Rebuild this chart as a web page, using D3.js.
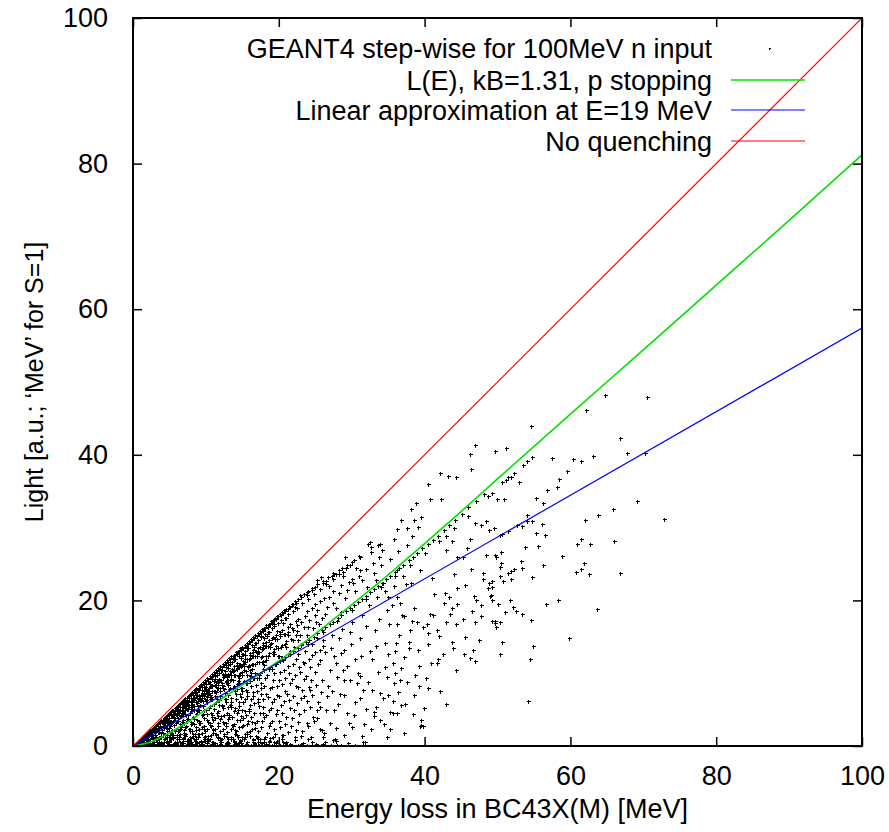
<!DOCTYPE html>
<html>
<head>
<meta charset="utf-8">
<script src="https://cdn.jsdelivr.net/npm/d3@7"></script>
<style>
  body { margin: 0; background: #fff; }
  text { font-family: "Liberation Sans", Arial, Helvetica, sans-serif; fill: #000; }
</style>
</head>
<body>
<svg id="chart" width="889" height="832"></svg>
<script>
// ---- axis ticks ----
const xTicks = [0, 20, 40, 60, 80, 100];
const yTicks = [0, 20, 40, 60, 80, 100];

// ---- model curves [E (MeV), light] ----
const birksCurve = [[0,0],[1,0.2],[2.5,0.6],[5,1.8],[7.5,3.3],[10,5.0],[12.5,6.7],[15,8.4],[17.5,10.0],[20,11.7],
  [25,15.4],[30,19.4],[35,23.5],[40,27.8],[45,32.2],[50,36.7],[60,45.6],[70,54.4],[80,63.3],[90,72.2],[100,81.2]];
const linearApprox = [[0,0],[100,57.4]];
const noQuench = [[0,0],[100,100]];

// ---- legend entries ----
const legendLabels = ["GEANT4 step-wise for 100MeV n input", "L(E), kB=1.31, p stopping",
  "Linear approximation at E=19 MeV", "No quenching"];
const legendColors = ["#000000", "#00e000", "#0000ff", "#ff0000"];

// ---- GEANT4 steps [E, L] ----
// rim of steps just below the unquenched line
const rimUpper = [[0.3,0.29],[0.6,0.56],[0.9,0.85],[1.2,1.11],[1.5,1.41],[1.8,1.67],[2.1,1.96],[2.4,2.22],[2.7,2.52],[3.0,2.78],
  [3.3,3.07],[3.6,3.31],[3.9,3.63],[4.2,3.88],[4.5,4.18],[4.8,4.42],[5.1,4.73],[5.4,4.98],[5.7,5.28],[6.0,5.52],
  [6.3,5.83],[6.6,6.07],[6.9,6.38],[7.2,6.61],[7.5,6.93],[7.8,7.16],[8.1,7.47],[8.4,7.71],[8.7,8.02],[9.0,8.25],
  [9.3,8.56],[9.6,8.8],[9.9,9.1],[10.2,9.33],[10.5,9.64],[10.8,9.87],[11.1,10.18],[11.4,10.41],[11.7,10.72],[12.0,10.95],
  [12.3,11.25],[12.6,11.49],[12.9,11.79],[13.2,12.03],[13.5,12.33],[13.8,12.56],[14.1,12.87],[14.4,13.1],[14.7,13.4],[15.0,13.64],
  [15.3,13.94],[15.6,14.17],[15.9,14.47],[16.2,14.7],[16.5,15.0],[16.8,15.22],[17.1,15.53],[17.4,15.75],[17.7,16.06],[18.0,16.27],
  [18.3,16.59],[18.6,16.8],[18.9,17.11],[19.2,17.32],[19.5,17.63],[19.8,17.84],[20.1,18.15],[20.4,18.36],[20.7,18.67],[21.0,18.88],
  [21.4,19.23],[21.8,19.5],[22.2,19.88],[22.6,20.15],[23.0,20.52],[23.5,20.85],[24.0,21.27],[24.6,21.64],[25.3,22.22],[26.0,22.6],
  [26.8,23.25],[27.6,23.62]];
const rimMiddle = [[0.45,0.41],[0.75,0.68],[1.05,0.95],[1.35,1.2],[1.65,1.48],[1.95,1.74],[2.25,2.0],[2.55,2.29],[2.85,2.54],[3.15,2.82],
  [3.45,3.07],[3.75,3.36],[4.05,3.6],[4.35,3.9],[4.65,4.13],[4.95,4.43],[5.25,4.66],[5.55,4.97],[5.85,5.2],[6.15,5.5],
  [6.45,5.73],[6.75,6.04],[7.05,6.26],[7.35,6.58],[7.65,6.8],[7.95,7.11],[8.25,7.33],[8.55,7.65],[8.85,7.86],[9.15,8.18],
  [9.45,8.4],[9.75,8.72],[10.05,8.93],[10.35,9.25],[10.65,9.46],[10.95,9.79],[11.25,10.0],[11.55,10.32],[11.85,10.53],[12.15,10.86],
  [12.45,11.06],[12.75,11.39],[13.05,11.6],[13.35,11.93],[13.65,12.13],[13.95,12.46],[14.25,12.66],[14.55,13.0],[14.85,13.2],[15.15,13.53],
  [15.45,13.73],[15.75,14.06],[16.05,14.26],[16.35,14.6],[16.65,14.79],[16.95,15.13],[17.25,15.32],[17.55,15.66],[17.85,15.85],[18.15,16.2],
  [18.45,16.38],[18.75,16.73],[19.05,16.91],[19.35,17.26],[19.65,17.44],[19.95,17.79],[20.25,17.97],[20.55,18.3],[20.85,18.5],[21.2,18.8],
  [21.6,19.05],[22.0,19.45],[22.4,19.7]];
const rimLower = [[0.5,0.42],[1.0,0.86],[1.4,1.2],[1.9,1.6],[2.3,1.98],[2.8,2.38],[3.2,2.75],[3.7,3.12],[4.1,3.5],[4.6,3.9],
  [5.0,4.3],[5.5,4.66],[5.9,5.05],[6.4,5.42],[6.8,5.8],[7.3,6.2],[7.7,6.58],[8.2,6.95],[8.6,7.35],[9.1,7.72],
  [9.5,8.1],[10.0,8.5],[10.4,8.85],[10.9,9.26],[11.3,9.62],[11.8,10.0],[12.2,10.4],[12.7,10.8],[13.1,11.15],[13.6,11.55],
  [14.0,11.9],[14.5,12.3],[14.9,12.68],[15.4,13.06],[15.8,13.43],[16.3,13.85],[16.7,14.2],[17.2,14.6],[17.6,14.95],[18.1,15.38],
  [18.5,15.7],[19.0,16.15],[19.4,16.46],[19.9,16.9],[20.3,17.25],[20.8,17.65],[21.3,18.1],[21.9,18.6],[22.5,19.0],[23.2,19.7],
  [24.0,20.2],[24.8,20.9],[25.6,21.6],[26.5,22.3],[27.4,22.9],[28.3,23.6],[29.2,24.5],
  [1.2,0.95],[2.5,1.9],[3.4,2.7],[4.4,3.4],[5.3,4.1],[6.1,4.8],[7.0,5.5],[7.9,6.1],[8.8,6.9],[9.7,7.5],
  [10.6,8.3],[11.5,8.9],[12.4,9.7],[13.3,10.3],[14.2,11.1],[15.1,11.7],[16.0,12.5],[16.9,13.1],[17.8,13.9],[18.7,14.5],
  [19.6,15.3],[20.5,15.9],[21.5,16.8],[22.6,17.5],[23.8,18.6],[25.0,19.5],[26.2,20.3],[27.5,21.3],[28.6,22.1],[30.0,23.0],
  [23.8,20.8],[24.5,21.4],[25.2,22.8],[25.8,23.2],[26.5,22.6],[27.5,23.7],[28.2,24.2],[29.3,24.9],[30.1,25.3],[31.1,26.0],
  [32.3,27.8],[33.6,27.6],[26.9,22.0],[28.8,23.3],[30.6,24.5]];
// shoulder just under the rim
const rimShoulder = [[0.7,0.6],[0.85,0.6],[1.0,0.8],[1.15,0.8],[1.3,1.1],[1.45,1.0],[1.6,1.3],[1.75,1.1],[1.9,1.4],[2.05,1.4],
  [2.2,1.8],[2.35,1.7],[2.5,2.1],[2.65,1.9],[2.8,2.2],[2.95,1.9],[3.1,2.7],[3.25,2.3],[3.4,2.7],[3.55,2.2],
  [3.7,2.8],[3.85,2.6],[4.0,3.3],[4.15,3.1],[4.3,3.6],[4.45,3.2],[4.6,3.6],[4.75,3.1],[4.9,4.2],[5.05,3.5],
  [5.2,4.2],[5.35,3.3],[5.5,4.2],[5.65,3.8],[5.8,4.8],[5.95,4.4],[6.1,5.1],[6.25,4.5],[6.4,5.0],[6.55,4.3],
  [6.7,5.8],[6.85,4.8],[7.0,5.6],[7.15,4.4],[7.3,5.5],[7.45,5.1],[7.6,6.2],[7.75,5.7],[7.9,6.6],[8.05,5.8],
  [8.2,6.4],[8.35,5.5],[8.5,7.3],[8.65,6.1],[8.8,7.0],[8.95,5.5],[9.1,6.9],[9.25,6.3],[9.4,7.7],[9.55,7.1],
  [9.7,8.1],[9.85,7.1],[10.0,7.8],[10.15,6.7],[10.3,8.9],[10.45,7.3],[10.6,8.5],[10.75,6.7],[10.9,8.3],[11.05,7.5],
  [11.2,9.2],[11.35,8.4],[11.5,9.7],[11.65,8.4],[11.8,9.2],[11.95,7.9],[12.1,10.4],[12.25,8.6],[12.4,9.9],[12.55,7.8],
  [12.7,9.7],[12.85,8.7],[13.0,10.7],[13.15,9.7],[13.3,11.2],[13.45,9.7],[13.6,10.6],[13.75,9.1],[13.9,12.0],[14.05,9.8],
  [14.2,11.4],[14.35,8.9],[14.5,11.0],[14.65,10.0],[14.8,12.1],[14.95,11.1],[15.1,12.7],[15.25,11.0],[15.4,12.0],[15.55,10.3],
  [15.7,13.5],[15.85,11.1],[16.0,12.8],[16.15,10.0],[16.3,12.4],[16.45,11.2],[16.6,13.6],[16.75,12.4],[16.9,14.2],[17.05,12.3],
  [17.2,13.4],[17.35,11.5],[17.5,15.1],[17.65,12.4],[17.8,14.2],[17.95,11.1],[18.1,13.8],[18.25,12.4],[18.4,15.1],[18.55,13.7],
  [18.7,15.7],[18.85,13.6],[19.0,14.8],[19.2,12.7],[19.4,16.7],[19.6,13.7],[19.8,15.8],[20.0,12.4],[20.2,15.4],[20.4,13.9],
  [20.6,16.9],[20.8,15.4],[21.0,17.6],[21.3,15.3],[21.6,16.8],[21.9,14.5],[22.2,19.1],[22.5,15.8]];
// wedge between the rim and the stopping-proton curve
const upperWedge = [[2.2,1.5],[2.9,2.2],[3.6,2.5],[4.3,3.2],[4.9,3.6],[5.6,4.3],[6.2,4.6],[6.9,5.2],[7.3,5.8],[7.9,5.6],
  [8.4,6.3],[8.9,6.5],[9.4,7.1],[9.8,7.3],[10.3,7.6],[10.7,8.2],[11.2,8.4],[11.6,8.9],[12.1,9.1],[12.5,9.6],
  [12.9,9.5],[13.4,10.2],[13.8,10.5],[14.3,10.6],[14.7,11.3],[15.2,11.2],[15.6,12.0],[16.1,12.1],[16.5,12.9],[17.0,12.8],
  [17.4,13.6],[17.9,13.5],[18.3,14.3],[18.8,14.0],[19.2,15.0],[19.7,14.7],[20.2,15.6],[20.7,15.4],[21.2,16.4],[21.8,16.2],
  [22.4,17.2],[23.0,17.0],[3.1,2.0],[5.0,3.2],[6.6,4.2],[8.1,5.1],[9.9,6.4],[11.4,7.4],[13.0,8.4],[14.6,9.4],
  [16.3,10.6],[17.8,11.6],[19.4,12.6],[21.0,13.6],[22.7,14.6]];
const lowCloud = [[0.6,0.3],[0.9,0.5],[1.1,0.2],[1.3,0.8],[1.4,0.4],[1.7,1.1],[1.8,0.6],[2.0,1.4],[2.1,0.3],[2.3,0.9],
  [2.4,1.7],[2.6,1.2],[2.7,0.5],[2.9,2.1],[3.0,1.5],[3.1,0.8],[3.3,2.4],[3.4,1.1],[3.5,1.9],[3.7,2.8],
  [3.8,0.6],[3.9,1.4],[4.0,2.2],[4.1,3.0],[4.2,1.0],[4.3,2.6],[4.4,1.7],[4.5,3.4],[4.6,0.7],[4.7,2.0],
  [4.8,3.1],[4.9,1.3],[5.0,2.5],[5.0,3.8],[5.1,0.9],[5.2,1.8],[5.3,3.3],[5.4,4.2],[5.4,2.2],[5.5,1.2],
  [5.6,2.9],[5.7,3.9],[5.8,0.6],[5.8,4.6],[5.9,2.4],[6.0,1.5],[6.0,3.5],[6.1,4.3],[6.2,2.0],[6.3,0.9],
  [6.3,5.0],[6.4,3.0],[6.5,1.6],[6.5,4.1],[6.6,2.6],[6.7,5.3],[6.8,3.6],[6.8,1.1],[6.9,4.7],[7.0,2.2],
  [7.0,3.1],[7.1,5.6],[7.2,1.7],[7.3,4.2],[7.3,2.8],[7.4,0.7],[7.5,5.1],[7.5,3.7],[7.6,6.0],[7.7,2.4],
  [7.8,1.3],[7.8,4.6],[7.9,3.3],[8.0,5.6],[8.1,2.0],[8.1,6.3],[8.2,4.0],[8.3,0.9],[8.3,3.0],[8.4,5.0],
  [8.5,1.6],[8.5,6.6],[8.6,2.6],[8.7,4.4],[8.8,3.6],[8.8,5.9],[8.9,1.2],[9.0,7.0],[9.0,2.3],[9.1,4.9],
  [9.2,3.2],[9.3,6.3],[9.3,0.7],[9.4,1.8],[9.5,4.2],[9.5,7.3],[9.6,5.5],[9.7,2.8],[9.8,3.8],[9.8,6.8],
  [9.9,1.4],[10.0,5.0],[10.0,7.7],[10.1,2.3],[10.2,4.4],[10.2,6.1],[10.3,3.3],[10.4,8.0],[10.5,1.0],[10.5,5.5],
  [10.6,7.0],[10.7,2.7],[10.8,4.0],[10.8,8.4],[10.9,6.5],[11.0,1.8],[11.0,3.6],[11.1,5.1],[11.2,7.5],[11.3,2.4],
  [11.4,8.8],[11.4,6.0],[11.5,4.5],[11.6,1.2],[11.7,3.1],[11.7,7.9],[11.8,5.6],[11.9,9.1],[12.0,2.1],[12.0,6.8],
  [12.1,4.1],[12.2,8.4],[12.3,3.3],[12.4,5.2],[12.4,9.5],[12.5,1.6],[12.6,7.3],[12.7,2.8],[12.7,6.1],[12.8,8.8],
  [12.9,4.6],[13.0,9.9],[13.0,3.7],[13.1,1.0],[13.2,7.8],[13.3,5.6],[13.4,2.3],[13.5,9.2],[13.5,6.6],[13.6,4.0],
  [13.7,10.3],[13.8,3.0],[13.9,8.3],[14.0,1.7],[14.0,5.2],[14.1,7.1],[14.2,10.7],[14.3,4.5],[14.4,9.6],[14.5,2.6],
  [14.5,6.1],[14.6,8.7],[14.7,3.6],[14.8,11.0],[14.9,1.3],[14.9,7.6],[15.0,5.0],[15.0,10.1],[15.1,2.9],[15.2,8.9],
  [15.3,6.5],[15.4,11.5],[15.5,4.2],[15.6,1.9],[15.6,9.8],[15.7,7.4],[15.8,3.5],[15.9,12.0],[16.0,5.7],[16.1,10.5],
  [16.2,8.2],[16.3,2.4],[16.4,6.8],[16.5,12.4],[16.6,4.6],[16.6,9.3],[16.8,11.2],[16.9,1.4],[17.0,7.6],[17.0,3.4],
  [17.2,12.9],[17.3,5.5],[17.4,10.0],[17.5,8.6],[17.6,2.6],[17.7,13.3],[17.8,6.4],[17.9,11.7],[18.0,4.0],[18.1,9.3],
  [18.2,13.8],[18.3,7.2],[18.4,1.8],[18.5,12.3],[18.6,5.0],[18.7,10.6],[18.8,3.1],[18.9,14.2],[19.0,8.1],[19.1,6.0],
  [19.2,12.9],[19.3,2.3],[19.4,10.0],[19.5,14.7],[19.6,4.4],[19.7,7.0],[19.8,11.6],[19.9,13.4],[20.0,3.5],[20.0,9.0],
  [20.2,15.1],[20.3,5.6],[20.4,12.2],[20.6,1.5],[20.7,10.4],[20.8,14.0],[20.9,7.5],[21.0,4.0],[21.2,15.6],[21.3,11.0],
  [21.4,6.3],[21.5,13.1],[21.7,2.7],[21.8,9.2],[21.9,16.0],[22.0,14.5],[22.1,5.0],[22.3,12.0],[22.4,8.3],[22.5,16.6],
  [22.6,3.3],[22.8,10.8],[22.9,15.2],[23.0,6.6]];
const lowCloudB = [[1.5,0.6],[1.9,1.2],[2.2,0.7],[2.5,1.4],[2.8,0.9],[3.0,2.0],[3.2,1.3],[3.5,0.5],[3.6,2.2],[3.9,1.8],
  [4.0,0.4],[4.2,2.5],[4.4,1.1],[4.6,2.9],[4.7,1.5],[4.9,0.6],[5.1,2.7],[5.3,1.5],[5.5,3.5],[5.6,0.4],
  [5.8,2.1],[5.9,3.2],[6.1,1.2],[6.2,3.9],[6.4,2.3],[6.5,0.5],[6.7,3.3],[6.8,4.4],[7.0,1.5],[7.1,2.6],
  [7.2,4.9],[7.4,3.5],[7.5,1.0],[7.6,4.3],[7.8,2.0],[7.9,5.3],[8.0,3.0],[8.2,1.4],[8.3,5.5],[8.4,3.7],
  [8.6,0.5],[8.7,2.2],[8.8,4.8],[8.9,6.2],[9.0,3.4],[9.1,1.6],[9.2,5.7],[9.4,2.6],[9.5,6.6],[9.6,4.4],
  [9.7,0.9],[9.8,5.0],[9.9,2.0],[10.0,6.3],[10.1,3.6],[10.2,7.3],[10.3,1.4],[10.4,5.2],[10.5,2.9],[10.6,6.4],
  [10.7,4.5],[10.8,0.6],[10.9,7.6],[11.0,2.3],[11.1,5.8],[11.2,3.9],[11.3,6.8],[11.4,1.5],[11.5,8.0],[11.6,4.8],
  [11.7,2.7],[11.8,6.3],[11.9,3.7],[12.0,7.6],[12.1,1.0],[12.2,5.6],[12.3,8.3],[12.4,2.4],[12.5,4.2],[12.6,6.5],
  [12.7,8.9],[12.8,3.1],[12.9,1.9],[13.0,5.3],[13.1,7.0],[13.2,4.2],[13.3,9.0],[13.4,0.9],[13.5,6.0],[13.6,2.9],
  [13.7,7.9],[13.8,4.8],[13.9,9.7],[14.0,2.2],[14.1,6.4],[14.2,3.6],[14.3,8.5],[14.4,1.2],[14.5,5.5],[14.6,9.8],
  [14.7,7.2],[14.8,4.1],[14.9,2.8],[15.0,8.0],[15.1,6.1],[15.2,10.4],[15.3,1.6],[15.4,4.8],[15.5,8.6],[15.6,3.0],
  [15.7,6.9],[15.8,10.8],[15.9,5.1],[16.0,2.1],[16.1,8.9],[16.2,4.0],[16.3,11.2],[16.4,7.4],[16.5,1.0],[16.6,5.9],
  [16.7,10.0],[16.8,3.2],[16.9,8.4],[17.0,11.6],[17.1,6.4],[17.2,2.0],[17.3,9.3],[17.4,4.5],[17.5,12.2],[17.6,7.2],
  [17.7,3.5],[17.8,10.6],[17.9,5.3],[18.0,8.2],[18.1,1.3],[18.2,11.8],[18.3,4.3],[18.4,9.8],[18.5,6.7],[18.6,2.7],
  [18.7,12.8],[18.8,7.9],[18.9,5.2],[19.0,10.6],[19.1,3.5],[19.2,9.0],[19.3,13.3],[19.4,6.5],[19.5,1.7],[19.6,11.2],
  [19.7,8.3],[19.8,4.9],[19.9,12.4],[20.0,6.8],[20.1,2.6],[20.2,10.2],[20.3,13.6],[20.4,8.5],[20.5,4.6],[20.6,11.8],
  [20.7,6.2],[20.8,3.0],[20.9,9.4],[21.0,14.4],[21.1,7.2],[21.2,12.6],[21.3,1.9],[21.4,10.0],[21.5,5.2],[21.6,8.6],
  [21.7,14.7],[21.8,3.8],[21.9,11.2],[22.0,6.9],[22.1,13.6],[22.2,9.8],[22.3,2.2],[22.4,15.3],[22.5,5.9],[22.6,12.6],
  [22.7,8.1],[22.8,4.4],[22.9,10.1],[23.0,14.0],[23.1,1.4],[23.2,7.7],[23.3,11.6],[23.4,16.3],[23.5,4.9],[23.6,13.0],
  [23.7,9.6],[23.8,6.2],[23.9,15.2],[24.0,2.7],[24.1,11.9],[24.2,17.3],[24.3,5.3],[24.4,9.0],[24.5,14.0],[24.6,7.0],
  [24.7,16.2],[24.8,3.5],[24.9,12.9],[25.0,18.0],[25.1,8.4],[25.2,14.8],[25.3,5.0],[25.4,11.3],[25.5,16.8],[25.6,2.4],
  [25.7,13.2],[25.8,7.4],[25.9,17.6]];
const lowCloudC = [[0.6,0.1],[0.75,0.4],[0.9,0.3],[1.05,0.8],[1.2,0.1],[1.35,0.6],[1.5,1.0],[1.65,0.4],[1.8,1.5],[1.95,1.0],
  [2.1,0.2],[2.25,1.6],[2.4,0.7],[2.55,1.5],[2.7,1.1],[2.85,0.6],[3.0,2.4],[3.15,0.1],[3.3,0.5],[3.45,1.9],
  [3.6,1.3],[3.75,2.8],[3.9,0.2],[4.05,1.8],[4.2,2.7],[4.35,1.1],[4.5,3.7],[4.65,2.3],[4.8,0.5],[4.95,3.5],
  [5.1,1.5],[5.25,3.2],[5.4,2.2],[5.55,1.1],[5.7,4.6],[5.85,0.1],[6.0,0.9],[6.15,3.4],[6.3,2.2],[6.45,4.8],
  [6.6,0.3],[6.75,3.0],[6.9,4.5],[7.05,1.8],[7.2,5.9],[7.35,3.7],[7.5,0.8],[7.65,5.4],[7.8,2.3],[7.95,4.8],
  [8.1,3.2],[8.25,1.7],[8.4,6.7],[8.55,0.2],[8.7,1.3],[8.85,4.9],[9.0,3.2],[9.15,6.9],[9.3,0.5],[9.45,4.3],
  [9.6,6.2],[9.75,2.4],[9.9,8.1],[10.05,5.0],[10.2,1.0],[10.35,7.2],[10.5,3.2],[10.65,6.4],[10.8,4.3],[10.95,2.2],
  [11.1,8.9],[11.25,0.2],[11.4,1.7],[11.55,6.4],[11.7,4.1],[11.85,8.9],[12.0,0.6],[12.15,5.5],[12.3,8.0],[12.45,3.1],
  [12.6,10.3],[12.75,6.4],[12.9,1.3],[13.05,9.1],[13.2,4.0],[13.35,8.0],[13.5,5.4],[13.65,2.7],[13.8,11.0],[13.95,0.3],
  [14.1,2.1],[14.25,7.8],[14.4,5.0],[14.55,10.9],[14.7,0.7],[14.85,6.7],[15.0,9.8],[15.15,3.8],[15.3,12.5],[15.45,7.7],
  [15.6,1.6],[15.75,11.0],[15.9,4.8],[16.05,9.6],[16.2,6.5],[16.35,3.3],[16.5,13.2],[16.65,0.3],[16.8,2.5],[16.95,9.3],
  [17.1,6.0],[17.25,12.9],[17.4,0.9],[17.55,7.9],[17.7,11.5],[17.85,4.5],[18.0,14.8]];
// steps with almost no light
const floorBand = [[0.5,0.1],[1.0,0.3],[1.4,0.1],[1.9,0.2],[2.3,0.05],[2.8,0.3],[3.2,0.1],[3.6,0.4],[4.1,0.2],[4.5,0.05],
  [4.9,0.3],[5.3,0.15],[5.8,0.45],[6.2,0.1],[6.6,0.3],[7.1,0.05],[7.5,0.25],[7.9,0.5],[8.4,0.1],[8.8,0.35],
  [9.2,0.15],[9.7,0.05],[10.1,0.4],[10.6,0.2],[11.0,0.6],[11.5,0.1],[11.9,0.3],[12.3,0.05],[12.8,0.45],[13.2,0.2],
  [13.7,0.1],[14.1,0.35],[14.6,0.6],[15.0,0.15],[15.5,0.3],[15.9,0.05],[16.4,0.5],[16.8,0.2],[17.3,0.1],[17.7,0.4],
  [18.2,0.25],[18.7,0.7],[19.1,0.1],[19.6,0.35],[20.1,0.2],[20.6,0.55],[21.1,0.1],[21.6,0.3],[22.2,0.8],[22.7,0.15],
  [23.3,0.4],[23.9,0.1],[24.5,0.6],[25.1,0.25],[25.8,0.1],[26.4,0.5],[27.1,0.2],[27.9,0.7],[28.6,0.1],[29.5,0.4],
  [30.4,0.2],[31.5,0.6],[1.8,0.9],[3.5,0.9],[5.2,1.1],[6.9,0.9],[8.6,1.0],[10.3,0.8],[12.0,1.1],[13.7,0.9],
  [15.4,1.2],[17.1,0.9],[18.8,1.1],[20.5,0.9],[22.2,1.3],[24.0,0.9],[26.0,1.2],[27.7,0.9],
  [0.3,0.05],[0.8,0.15],[1.2,0.35],[1.6,0.05],[2.1,0.5],[2.5,0.15],[3.0,0.05],[3.4,0.25],[3.9,0.55],[4.3,0.1],
  [4.7,0.4],[5.1,0.05],[5.6,0.25],[6.0,0.6],[6.4,0.2],[6.9,0.4],[7.3,0.1],[7.7,0.65],[8.1,0.3],[8.6,0.05],
  [9.0,0.5],[9.5,0.25],[9.9,0.7],[10.4,0.05],[10.8,0.3],[11.3,0.45],[11.7,0.05],[12.1,0.6],[12.6,0.2],[13.0,0.4],
  [13.5,0.05],[13.9,0.7],[14.4,0.2],[14.8,0.45],[15.3,0.05],[15.7,0.6],[16.2,0.2],[16.6,0.35],[17.1,0.6],[17.5,0.05],
  [18.0,0.5],[18.5,0.1],[19.3,0.6],[19.9,0.05],[20.9,0.4],[21.8,0.05],[23.0,0.3],[24.2,0.05],[26.0,0.3],[28.0,0.2],
  [0.7,0.2],[1.1,0.6],[1.5,0.3],[2.0,0.8],[2.4,0.4],[2.9,1.0],[3.3,0.6],[3.8,1.2],[4.2,0.5],[4.6,1.3],
  [5.0,0.7],[5.5,1.5],[5.9,0.4],[6.3,1.2],[6.8,0.7],[7.2,1.4],[7.6,0.4],[8.0,1.1],[8.5,0.7],[8.9,1.6],
  [9.4,0.5],[9.8,1.2],[10.2,0.7],[10.7,1.5],[11.1,0.4],[11.6,1.1],[12.0,0.8],[12.5,1.4],[12.9,0.5],[13.4,1.2],
  [13.8,0.6],[14.3,1.5],[14.7,0.8],[15.2,1.0],[15.6,0.5],[16.1,1.4],[16.5,0.8],[17.0,1.2],[17.5,0.4],[18.0,1.0],
  [18.6,0.5],[19.2,1.3],[19.8,0.7],[20.4,1.5],[21.0,0.6]];
// steps of stopping protons along L(E)
const protonBand = [[14.0,7.6],[14.8,8.0],[15.6,8.7],[16.5,9.3],[17.3,9.8],[18.0,10.4],[18.8,10.9],[19.5,11.3],[20.2,11.7],[20.8,12.2],
  [21.5,12.6],[22.0,13.1],[22.6,13.5],[23.1,13.9],[23.7,14.3],[24.2,14.6],[24.8,15.0],[25.3,15.5],[25.9,15.9],[26.4,16.3],
  [27.0,16.8],[27.5,17.1],[28.1,17.6],[28.6,18.0],[29.2,18.5],[29.7,18.9],[30.3,19.3],[30.8,19.8],[31.4,20.2],[31.9,20.6],
  [32.5,21.1],[33.0,21.5],[33.6,22.0],[34.1,22.4],[34.7,22.9],[35.3,23.4],[35.9,23.9],[36.5,24.4],[37.1,24.9],[37.8,25.5],
  [38.4,26.0],[39.0,26.5],[39.7,27.2],[40.4,27.7],[41.1,28.3],[41.8,28.9],[42.6,29.7],[43.4,30.4],[44.2,31.1],[45.1,31.9],
  [46.0,32.8],[47.0,33.7],[48.1,34.6],[24.0,14.0],[26.0,15.6],[28.0,17.2],[30.0,18.7],[32.0,20.2],[34.0,21.8],[36.0,23.3],
  [38.0,24.9],[40.0,26.5],[42.0,28.2],[44.0,29.9],[46.0,31.6],[50.6,36.2],[51.2,36.5],[51.5,36.9],[51.9,36.9],[52.3,37.5],
  [52.9,36.3],[53.5,38.6],[54.1,39.1],[54.7,39.7]];
// scattered steps at intermediate energy
const midCloud = [[22.9,20.7],[23.8,21.2],[25.0,21.9],[26.1,22.4],[27.3,23.3],[27.9,23.6],[28.8,23.9],
  [25.2,18.7],[26.6,19.1],[27.5,19.6],[28.6,18.4],[29.3,21.4],[30.2,22.4],[31.4,22.8],[32.1,21.9],[33.0,23.7],[33.4,22.8],
  [34.3,22.4],[35.3,23.3],[36.2,24.2],[32.5,28.0],[32.6,27.4],[33.9,27.8],[34.2,26.9],[33.7,25.9],[32.7,26.7],
  [31.0,26.1],[30.3,25.5],[29.8,24.9],[29.1,25.9],[28.7,24.5],[31.1,24.2],
  [23.4,11.4],[24.3,10.9],[25.6,11.8],[27.0,10.4],[27.9,11.4],[28.8,10.4],[29.8,9.1],[30.7,8.6],[31.6,7.7],[28.4,7.2],
  [26.6,6.8],[25.6,5.4],[24.7,4.0],[23.8,3.1],[25.9,2.2],[27.5,0.8],[29.3,4.5],[31.1,6.6],[33.4,5.4],[33.9,3.6],
  [23.4,6.8],[24.3,7.7],[23.5,9.2],[24.1,8.1],[24.6,12.5],[25.0,10.1],[25.4,6.0],[25.9,9.0],[26.3,12.9],[26.8,8.2],
  [27.2,13.5],[27.6,5.0],[28.0,9.5],[28.5,12.8],[29.0,7.0],[29.4,11.0],[29.9,14.0],[30.3,4.2],[30.8,10.0],[31.3,12.4],
  [31.7,3.0],[32.2,8.8],[32.8,11.9],[33.3,13.8],[33.9,7.3],[34.5,10.8],[35.0,12.6],[35.6,6.2],[36.1,14.2],[36.6,9.0],
  [37.3,5.8],[37.9,13.5],[38.5,7.0],[39.2,11.0],[39.9,5.2],[23.2,2.0],[24.4,1.2],[25.3,3.8],[26.2,1.8],[27.0,3.2],
  [27.9,2.5],[28.9,1.5],[30.0,2.6],[31.4,1.4],[32.6,2.3],
  [46.9,41.3],[46.2,40.1],[46.3,38.1],[42.1,37.5],[43.2,37.1],[44.3,36.9],[40.5,36.0],
  [40.7,33.9],[42.2,33.9],[38.8,33.4],[38.1,32.6],[39.5,31.4],[38.6,31.0],[39.1,30.1],[36.7,31.0],[36.2,29.8],[37.6,30.0],[35.8,28.5],
  [43.0,26.9],[44.4,26.0],[45.8,27.2],[45.2,26.0],[46.9,30.7],[47.7,30.4],[48.4,30.9],[48.8,29.7],[49.5,29.9],[46.2,28.5],
  [43.8,28.2],[42.9,28.8],[49.7,26.3],[49.2,22.6],[49.0,20.6],[46.3,24.3],[45.6,22.1],[44.0,23.6],[44.4,21.7],[43.4,20.5],
  [43.8,19.0],[42.6,19.7],[41.3,20.9],[41.0,23.1],[39.4,24.2],[38.2,22.4],[37.4,22.2],[49.6,17.2],[46.9,17.0],[45.3,17.5],
  [44.3,16.8],[43.0,17.0],[47.7,19.3],[46.8,20.6],[47.1,20.1],[40.7,18.2],[40.3,16.8],[41.7,15.9],[40.4,15.5],[38.9,17.1],
  [38.3,17.2],[38.0,15.9],[36.9,18.0],[36.6,19.6],[36.2,20.5],[35.5,19.3],[35.0,20.5],[34.9,18.7],[36.2,16.8],
  [43.8,14.3],[43.9,13.4],[45.4,12.6],[46.2,12.1],[46.9,11.7],[46.7,13.2],[42.5,12.7],[41.9,12.0],[41.7,11.4],[40.9,11.4],
  [44.3,10.5],[42.9,5.8],[42.1,7.5],[40.2,9.4],[40.5,7.9],[38.7,9.8],[37.2,12.2],[36.8,10.7],[35.7,11.4],[35.8,8.6],
  [34.9,9.5],[36.4,7.4],[35.2,4.7],[34.3,6.6],[33.1,4.7],[33.1,4.1],[35.7,4.6],[36.2,4.6],[39.5,3.6],[39.8,2.8],
  [39.4,2.8],[35.2,2.3],[35.2,2.4],[39.5,2.9],[27.7,0.9]];
const midCloudB = [[23.6,17.8],[24.0,16.4],[24.5,18.9],[25.1,17.0],[25.6,19.9],[26.0,14.6],[26.4,18.1],[26.9,20.4],[27.3,15.2],[27.8,19.0],
  [28.2,21.0],[28.7,16.1],[29.1,20.3],[29.6,22.5],[30.0,17.0],[30.5,21.3],[31.0,23.4],[31.4,18.0],[31.9,24.3],[32.4,19.3],
  [32.9,25.2],[33.5,20.4],[34.0,24.8],[34.6,21.3],[35.2,25.7],[35.8,22.0],[36.4,26.8],[37.0,23.4],[37.6,27.6],[38.3,28.9],
  [26.1,13.7],[27.6,12.3],[28.3,14.9],[29.0,13.2],[29.8,15.7],[30.5,12.0],[31.2,14.8],[31.9,16.5],[32.5,13.0],[33.2,15.9],
  [33.8,17.4],[34.5,14.1],[35.1,16.8],[35.9,13.0],[36.5,15.2],[37.2,17.9],[37.8,14.3],[38.5,19.0],[39.1,13.2],[39.8,16.4],
  [40.5,14.0],[41.2,18.0],[42.0,15.1],[42.8,21.0],[43.5,18.2],[44.5,19.5],[45.5,15.0],[46.5,18.6],[47.5,14.6],
  [26.5,4.9],[27.3,7.6],[28.1,5.8],[28.9,9.1],[29.6,3.2],[30.4,6.1],[31.2,9.6],[32.0,5.1],[32.8,7.7],[33.6,10.2],
  [34.4,3.0],[35.0,7.0],[35.9,10.0],[36.7,5.6],[37.6,8.8],[38.4,4.4],[39.3,8.2],[31.8,0.6],[34.8,1.2],[37.2,1.8]];
// sparse steps at high energy
const highCloud = [[62.1,46.2],[54.6,43.9],[49.6,40.5],[51.2,40.9],[66.8,42.3],[67.8,40.2],[70.2,40.2],[63.1,39.8],[57.5,39.5],
  [60.4,39.4],[61.5,39.2],[59.5,37.8],[58.4,36.7],[58.1,35.6],[56.8,35.1],[56.2,33.4],[55.3,34.0],[54.7,39.7],
  [49.2,34.8],[48.7,34.4],[49.9,33.9],[50.9,33.9],[69.1,33.7],[65.9,32.6],[63.8,31.7],[62.0,31.0],[72.9,31.2],
  [54.0,31.7],[54.0,30.9],[54.8,30.9],[56.1,30.5],[55.3,29.3],[56.5,29.0],[53.4,30.2],[52.7,30.3],[51.5,29.5],[50.6,29.1],
  [50.4,29.0],[53.8,27.4],[55.6,27.5],[58.8,26.1],[60.9,27.7],[61.4,28.5],[62.7,27.7],[66.0,28.1],[61.9,25.1],[61.5,24.3],
  [60.8,23.9],[62.6,23.6],[66.8,23.7],[56.3,24.9],[53.4,24.4],[53.2,25.4],[54.8,23.2],[52.3,24.3],[51.8,24.1],[51.4,23.7],
  [50.8,22.7],[51.8,23.0],[50.3,23.4],[50.3,24.6],[50.5,25.2],[50.5,26.6],[49.6,26.3],[49.8,26.0],[48.4,26.3],[48.0,23.7],
  [58.3,20.1],[56.7,19.5],[63.7,18.8],[51.7,20.0],[52.1,19.1],[52.5,18.6],[53.4,18.2],[51.0,18.4],[50.1,19.5],[49.2,20.0],
  [49.1,20.7],[48.9,22.4],[48.7,21.7],[49.3,21.9],[47.8,19.3],[47.8,17.8],[49.3,17.2],[49.7,16.9],[49.8,16.4],[50.3,17.1],
  [54.6,17.3],[50.6,14.3],[50.3,12.6],[54.9,13.7],[54.5,11.9],[54.2,6.2],[59.8,14.9],[64.7,48.2],[70.5,48.0],[48.0,23.0]];

const scatterGroups = [rimUpper, rimMiddle, rimLower, rimShoulder, upperWedge, lowCloud, lowCloudB, lowCloudC,
  floorBand, protonBand, midCloud, midCloudB, highCloud];

// ---- layout ----
const W = 889, H = 832;
const plot = { left: 133, right: 862, top: 18, bottom: 746 };
const x = d3.scaleLinear().domain([0, 100]).range([plot.left, plot.right]);
const y = d3.scaleLinear().domain([0, 100]).range([plot.bottom, plot.top]);

const svg = d3.select("#chart");
svg.append("rect").attr("width", W).attr("height", H).attr("fill", "#fff");

svg.append("defs").append("clipPath").attr("id", "plotClip")
  .append("rect").attr("x", plot.left).attr("y", plot.top)
  .attr("width", plot.right - plot.left).attr("height", plot.bottom - plot.top);

const tickLen = 9;
const fontSize = 27;

// bottom axis with labels, inward ticks
const gx = svg.append("g").attr("transform", `translate(0,${plot.bottom})`)
  .call(d3.axisBottom(x).tickValues(xTicks).tickSize(-tickLen).tickPadding(20).tickFormat(d3.format("d")));
// top mirror ticks
const gxt = svg.append("g").attr("transform", `translate(0,${plot.top})`)
  .call(d3.axisTop(x).tickValues(xTicks).tickSize(-tickLen).tickFormat(""));
// left axis
const gy = svg.append("g").attr("transform", `translate(${plot.left},0)`)
  .call(d3.axisLeft(y).tickValues(yTicks).tickSize(-tickLen).tickPadding(25).tickFormat(d3.format("d")));
// right mirror ticks
const gyr = svg.append("g").attr("transform", `translate(${plot.right},0)`)
  .call(d3.axisRight(y).tickValues(yTicks).tickSize(-tickLen).tickFormat(""));

[gx, gxt, gy, gyr].forEach(g => {
  g.select(".domain").remove();
  g.selectAll(".tick line").attr("stroke", "#000").attr("stroke-width", 1.5);
  g.selectAll(".tick text").attr("font-size", fontSize).attr("font-family", '"Liberation Sans", Arial, sans-serif').attr("fill", "#000");
});

// ---- scatter of GEANT4 steps (small crisp crosses) ----
const cross = "M-2,0H2M0,-2V2";
const snap = v => Math.round(v) + 0.5;
const allSteps = scatterGroups.flat();
svg.append("g").attr("clip-path", "url(#plotClip)")
  .attr("shape-rendering", "crispEdges")
  .selectAll("path").data(allSteps).join("path")
  .attr("d", cross)
  .attr("transform", d => `translate(${snap(x(d[0]))},${snap(y(d[1]))})`)
  .attr("stroke", "#000").attr("stroke-width", 1).attr("fill", "none");

// ---- model lines ----
const curves = svg.append("g").attr("clip-path", "url(#plotClip)");
curves.append("path").datum(birksCurve)
  .attr("d", d3.line().x(d => x(d[0])).y(d => y(d[1])).curve(d3.curveMonotoneX))
  .attr("fill", "none").attr("stroke", legendColors[1]).attr("stroke-width", 1.6);
curves.append("path").datum(linearApprox)
  .attr("d", d3.line().x(d => x(d[0])).y(d => y(d[1])))
  .attr("fill", "none").attr("stroke", legendColors[2]).attr("stroke-width", 1.2);
curves.append("path").datum(noQuench)
  .attr("d", d3.line().x(d => x(d[0])).y(d => y(d[1])))
  .attr("fill", "none").attr("stroke", legendColors[3]).attr("stroke-width", 1.2);

// ---- frame ----
svg.append("rect").attr("x", plot.left).attr("y", plot.top)
  .attr("width", plot.right - plot.left).attr("height", plot.bottom - plot.top)
  .attr("fill", "none").attr("stroke", "#000").attr("stroke-width", 2);

// ---- axis titles ----
svg.append("text").attr("x", (plot.left + plot.right) / 2).attr("y", 818)
  .attr("text-anchor", "middle").attr("font-size", fontSize)
  .text("Energy loss in BC43X(M) [MeV]");
svg.append("text").attr("transform", `translate(43,${(plot.top + plot.bottom) / 2}) rotate(-90)`)
  .attr("text-anchor", "middle").attr("font-size", 25)
  .text("Light [a.u.; \u2018MeV\u2019 for S=1]");

// ---- legend ----
const legendRows = [48, 80, 110, 141];
const legend = svg.append("g");
legendLabels.forEach((label, i) => {
  legend.append("text").attr("x", 712).attr("y", legendRows[i]).attr("dy", "0.36em")
    .attr("text-anchor", "end").attr("font-size", fontSize).text(label);
  if (i === 0) {
    legend.append("path").attr("d", "M-1,0H1M0,-1V1")
      .attr("transform", `translate(${snap(769)},${snap(legendRows[i])})`)
      .attr("shape-rendering", "crispEdges")
      .attr("stroke", legendColors[0]).attr("stroke-width", 1);
  } else {
    legend.append("path").attr("d", `M731,${legendRows[i]}H805`)
      .attr("stroke", legendColors[i]).attr("stroke-width", i === 1 ? 1.6 : 1.2);
  }
});
</script>
</body>
</html>
